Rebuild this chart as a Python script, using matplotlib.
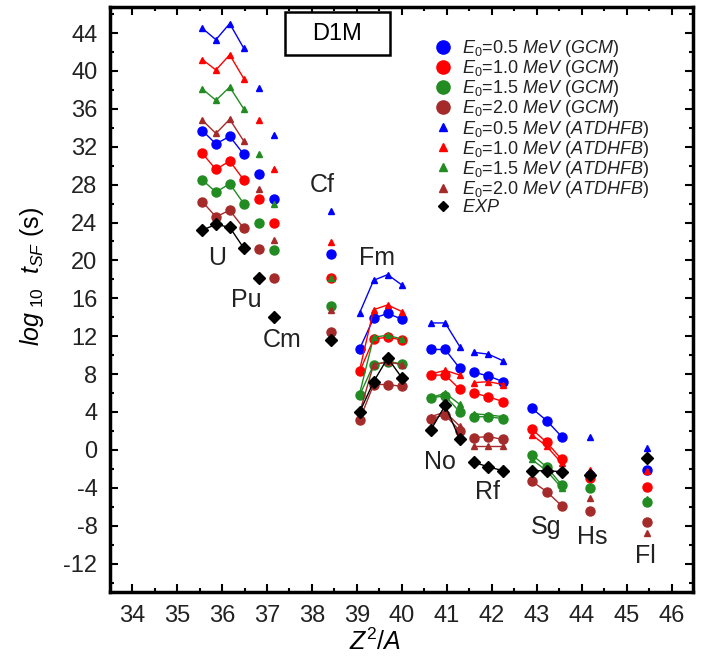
import numpy as np
import matplotlib
matplotlib.use('Agg')
import matplotlib.pyplot as plt
from matplotlib.lines import Line2D
from matplotlib.patches import Rectangle
from matplotlib.ticker import MultipleLocator

plt.rcParams['font.family'] = ['Liberation Sans', 'DejaVu Sans']
plt.rcParams['mathtext.fontset'] = 'custom'
plt.rcParams['mathtext.rm'] = 'Liberation Sans'
plt.rcParams['mathtext.it'] = 'Liberation Sans:italic'
plt.rcParams['mathtext.bf'] = 'Liberation Sans:bold'
plt.rcParams['axes.unicode_minus'] = False

nan = np.nan
# nuclei (Z, A)
nuclei = ['U238', 'U236', 'U234', 'U232', 'Pu240', 'Cm248', 'Cf250',
          'Fm256', 'Fm254', 'Fm252', 'Fm250', 'No256', 'No254', 'No252',
          'Rf260', 'Rf258', 'Rf256', 'Sg262', 'Sg260', 'Sg258', 'Hs264', 'Fl286']
Z = np.array([92, 92, 92, 92, 94, 96, 98, 100, 100, 100, 100, 102, 102, 102,
              104, 104, 104, 106, 106, 106, 108, 114])
A = np.array([238, 236, 234, 232, 240, 248, 250, 256, 254, 252, 250, 256, 254, 252,
              260, 258, 256, 262, 260, 258, 264, 286])
group_id = [0, 0, 0, 0, 1, 2, 3, 4, 4, 4, 4, 5, 5, 5, 6, 6, 6, 7, 7, 7, 8, 9]

gcm_05 = [33.7, 32.3, 33.1, 31.2, 29.1, 26.5, 20.7, 10.7, 13.9, 14.4, 13.8,
          10.6, 10.6, 8.6, 8.2, 7.8, 7.2, 4.4, 3.1, 1.4, -2.6, -2.1]
gcm_10 = [31.3, 29.6, 30.5, 28.5, 26.5, 23.9, 18.1, 8.3, 11.7, 11.9, 11.6,
          7.9, 7.9, 6.4, 6.0, 5.6, 5.1, 2.2, 0.8, -1.0, -3.0, -3.9]
gcm_15 = [28.5, 27.2, 28.1, 26.0, 24.0, 21.1, 15.2, 5.8, 9.0, 9.3, 9.1,
          5.5, 5.7, 4.0, 3.5, 3.5, 3.3, -0.5, -1.8, -3.7, -4.0, -5.5]
gcm_20 = [26.2, 24.6, 25.3, 23.4, 21.2, 18.1, 12.4, 3.2, 6.9, 6.9, 6.7,
          3.3, 3.7, 2.0, 1.3, 1.4, 1.1, -3.3, -4.4, -5.9, -6.5, -7.6]
atd_05 = [44.5, 43.3, 45.0, 42.4, 38.2, 33.2, 25.2, 14.5, 17.9, 18.5, 17.4,
          13.4, 13.4, 10.9, 10.3, 10.1, 9.4, nan, nan, nan, 1.4, 0.2]
atd_10 = [41.2, 40.1, 41.7, 39.2, 34.8, 29.6, 21.9, 8.5, 14.8, 15.3, 14.6,
          8.0, 8.4, 7.9, 7.1, 7.2, 6.9, 1.6, 0.4, -1.4, -2.1, -2.2]
atd_15 = [38.1, 36.9, 38.3, 36.0, 31.2, 26.0, 18.1, 6.0, 11.9, 12.1, 11.7,
          5.5, 6.0, 4.8, 3.8, 3.7, 3.5, -1.0, -2.2, -4.0, -3.8, -5.2]
atd_20 = [34.8, 33.4, 34.9, 32.6, 27.5, 22.2, 14.8, 4.0, 9.0, 9.3, 9.0,
          3.5, 4.0, 2.5, 0.4, 0.4, 0.4, nan, nan, nan, -5.1, -8.8]
exp_vals = [23.2, 23.8, 23.5, 21.3, 18.1, 14.0, 11.6, 4.0, 7.2, 9.7, 7.6,
            2.1, 4.7, 1.1, -1.3, -1.8, -2.2, -2.2, -2.2, -2.3, -2.7, -0.9]

element_labels = ['U', 'Pu', 'Cm', 'Cf', 'Fm', 'No', 'Rf', 'Sg', 'Hs', 'Fl']
label_x = [35.89, 36.53, 37.33, 38.22, 39.44, 40.84, 41.91, 43.2, 44.22, 45.42]
label_y = [20.3, 15.8, 11.6, 28.0, 20.3, -1.3, -4.4, -8.1, -9.2, -11.2]

blue, red, green, brown = '#0000ff', '#ff0000', '#228b22', '#a52a2a'
series = [
    (gcm_05, blue, 'o', 6.5, r'$E_0$=0.5 $MeV$ $(GCM)$'),
    (gcm_10, red, 'o', 6.5, r'$E_0$=1.0 $MeV$ $(GCM)$'),
    (gcm_15, green, 'o', 6.5, r'$E_0$=1.5 $MeV$ $(GCM)$'),
    (gcm_20, brown, 'o', 6.5, r'$E_0$=2.0 $MeV$ $(GCM)$'),
    (atd_05, blue, '^', 5, r'$E_0$=0.5 $MeV$ $(ATDHFB)$'),
    (atd_10, red, '^', 5, r'$E_0$=1.0 $MeV$ $(ATDHFB)$'),
    (atd_15, green, '^', 5, r'$E_0$=1.5 $MeV$ $(ATDHFB)$'),
    (atd_20, brown, '^', 5, r'$E_0$=2.0 $MeV$ $(ATDHFB)$'),
    (exp_vals, 'black', 'D', 6, r'$EXP$'),
]

x = Z.astype(float) ** 2 / A
gid = np.array(group_id)

fig = plt.figure(figsize=(7.02, 6.64), dpi=100)
ax = fig.add_axes([110 / 702, 1 - 592 / 664, (693 - 110) / 702, (592 - 7) / 664])

handles = []
for vals, col, mk, ms, lab in series:
    v = np.array(vals, dtype=float)
    for g in np.unique(gid):
        sel = gid == g
        ax.plot(x[sel], v[sel], color=col, marker=mk, ms=ms, lw=1.0,
                mec=col, mfc=col, zorder=3 if mk != 'o' else 2)
    lms = {'o': 9.5, '^': 6, 'D': 5.5}[mk]
    handles.append(Line2D([], [], ls='none', marker=mk, color=col, ms=lms))

ax.legend(handles, [s[4] for s in series], loc='upper left',
          bbox_to_anchor=(0.54, 0.959), frameon=False, fontsize=13,
          labelspacing=-0.05, handletextpad=0.45, handlelength=1.2,
          borderaxespad=0, labelcolor='#222222')

for t, lx, ly in zip(element_labels, label_x, label_y):
    ax.text(lx, ly, t, fontsize=18, ha='center', va='center', color='#222222')

# D1M box
ax.add_patch(Rectangle((0.300, 0.918), 0.180, 0.073, transform=ax.transAxes,
                       fc='white', ec='black', lw=1.8, zorder=4))
ax.text(0.390, 0.9545, 'D1M', transform=ax.transAxes, fontsize=17,
        ha='center', va='center', zorder=5)

ax.set_xlim(33.51, 46.47)
ax.set_ylim(-15, 46.75)
ax.xaxis.set_major_locator(MultipleLocator(1))
ax.xaxis.set_minor_locator(MultipleLocator(0.5))
ax.yaxis.set_major_locator(MultipleLocator(4))
ax.yaxis.set_minor_locator(MultipleLocator(2))
ax.tick_params(which='both', direction='in', top=True, right=True, labelsize=17,
               width=1.5, labelcolor='#222222')
ax.tick_params(which='major', length=6, pad=9)
ax.tick_params(which='minor', length=3)
for s in ax.spines.values():
    s.set_linewidth(2.5)

ax.set_xlabel(r'$Z^2/A$', fontsize=18)
ax.xaxis.set_label_coords((375 - 110) / 583, -0.062)
ax.set_ylabel(r'$log_{\ 10}\ \ t_{SF}$ (s)', fontsize=18)
ax.yaxis.set_label_coords(-0.11, 0.54)

fig.savefig('out.png', dpi=100)
